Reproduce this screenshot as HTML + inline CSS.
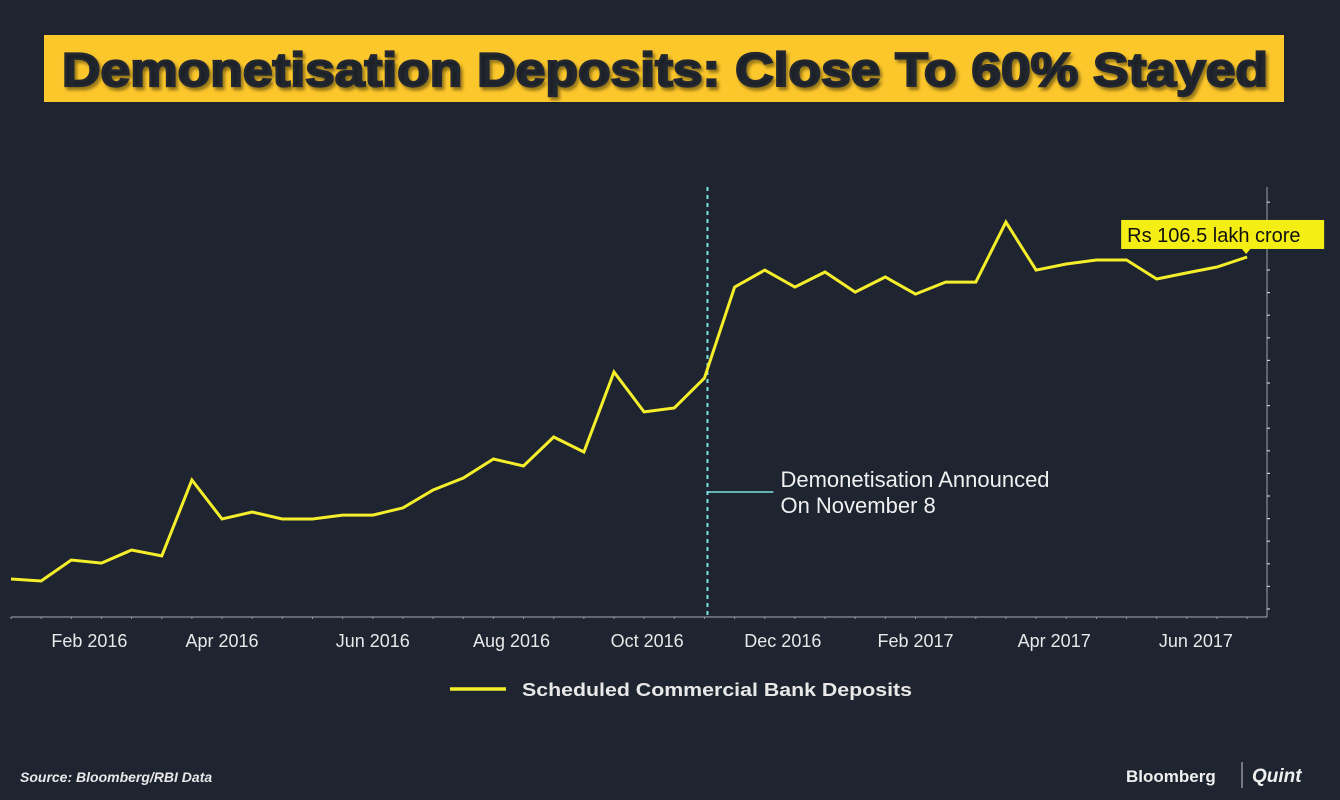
<!DOCTYPE html>
<html><head><meta charset="utf-8"><style>
html,body{margin:0;padding:0;background:#1e2430;width:1340px;height:800px;overflow:hidden}
svg{display:block}
text{font-family:"Liberation Sans",sans-serif}
</style></head><body>
<svg id="chart" width="1340" height="800" xmlns="http://www.w3.org/2000/svg">
<rect x="0" y="0" width="1340" height="800" fill="#1e2430"/>
<g>
<rect x="44" y="35" width="1240" height="67" fill="#fcc72b"/>
<text x="62" y="86" font-size="47" font-weight="bold" fill="#232830" stroke="#232830" stroke-width="2.2" textLength="1206" lengthAdjust="spacingAndGlyphs" style="text-shadow:2px 3px 3px rgba(0,0,0,0.35)">Demonetisation Deposits: Close To 60% Stayed</text>
</g>
<g id="axes"></g>
<g id="marks"></g>
<g>
<line x1="450" y1="689" x2="506" y2="689" stroke="#f5ee2a" stroke-width="3.5"/>
<text x="522" y="696" font-size="18.5" font-weight="bold" fill="#e8e8e8" textLength="390" lengthAdjust="spacingAndGlyphs">Scheduled Commercial Bank Deposits</text>
</g>
<text x="20" y="782" font-size="14" font-style="italic" font-weight="bold" fill="#e8e8e8">Source: Bloomberg/RBI Data</text>
<g>
<text x="1126" y="782" font-size="17" font-weight="bold" fill="#f0f0f0">Bloomberg</text>
<line x1="1242" y1="762" x2="1242" y2="788" stroke="#ccc" stroke-width="1"/>
<text x="1252" y="782" font-size="19" font-style="italic" font-weight="bold" fill="#f0f0f0" font-family="Liberation Serif, serif">Quint</text>
</g>
</svg>
<script>
const values=[91.74,91.65,92.61,92.47,93.07,92.80,96.28,94.49,94.81,94.49,94.49,94.67,94.67,95.00,95.82,96.37,97.24,96.92,98.25,97.56,101.23,99.40,99.58,100.95,105.12,105.90,105.12,105.81,104.89,105.58,104.80,105.35,105.35,108.10,105.90,106.18,106.36,106.36,105.49,105.77,106.04,106.50];
const tickLabels=["Feb 2016","Apr 2016","Jun 2016","Aug 2016","Oct 2016","Dec 2016","Feb 2017","Apr 2017","Jun 2017"];
const tickIndex=[2.6,7.0,12.0,16.6,21.1,25.6,30.0,34.6,39.3];
const eventIndex=23.1;
const calloutText="Rs 106.5 lakh crore";
const NS="http://www.w3.org/2000/svg";
const x0=11,dx=30.15,yBase=617,vMin=90,k=21.82;
function xs(i){return x0+i*dx;}
function ys(v){return yBase-(v-vMin)*k;}
function mk(tag,attrs,parent){const e=document.createElementNS(NS,tag);for(const a in attrs)e.setAttribute(a,attrs[a]);parent.appendChild(e);return e;}
const axes=document.getElementById('axes'),marks=document.getElementById('marks');
let e=mk('line',{x1:11,y1:617,x2:1267,y2:617,stroke:'#8a8f98','stroke-width':1.2},axes);


e=mk('line',{x1:1267,y1:187,x2:1267,y2:617,stroke:'#8a8f98','stroke-width':1.2},axes);


for(let y=609;y>190;y-=22.6){mk('line',{x1:1267,y1:y,x2:1270,y2:y,stroke:'#ccc','stroke-width':1.2},axes);}
for(let i=0;i<values.length;i++){mk('line',{x1:xs(i),y1:617,x2:xs(i),y2:619,stroke:'#999','stroke-width':1},axes);}
tickLabels.forEach((t,j)=>{const tx=mk('text',{x:xs(tickIndex[j]),y:647,'font-size':18,fill:'#e8e8e8','text-anchor':'middle'},axes);tx.textContent=t;

});
const ex=xs(eventIndex);
e=mk('line',{x1:ex,y1:187,x2:ex,y2:617,stroke:'#7fe0e0','stroke-width':2,'stroke-dasharray':'4,4'},marks);


e=mk('line',{x1:ex,y1:492,x2:ex+66,y2:492,stroke:'#7fe0e0','stroke-width':1.5},marks);


const at=mk('text',{x:ex+73,y:487,'font-size':22,fill:'#f0f0f0'},marks);


mk('tspan',{x:ex+73,dy:0},at).textContent="Demonetisation Announced";
mk('tspan',{x:ex+73,dy:26},at).textContent="On November 8";
const pts=values.map((v,i)=>xs(i).toFixed(1)+','+ys(v).toFixed(1)).join(' ');
e=mk('polyline',{points:pts,fill:'none',stroke:'#f5ee2a','stroke-width':3,'stroke-linejoin':'miter'},marks);


const li=values.length-1,lx=xs(li),ly=ys(values[li]);
const cg=mk('g',{},marks);


mk('rect',{x:lx-126,y:ly-37,width:203,height:29,fill:'#f5ee14'},cg);
mk('polygon',{points:`${lx-6},${ly-9} ${lx+4},${ly-9} ${lx-1},${ly-3}`,fill:'#f5ee14'},cg);
const ct=mk('text',{x:lx-120,y:ly-15,'font-size':20,fill:'#111'},cg);ct.textContent=calloutText;
</script>
</body></html>
